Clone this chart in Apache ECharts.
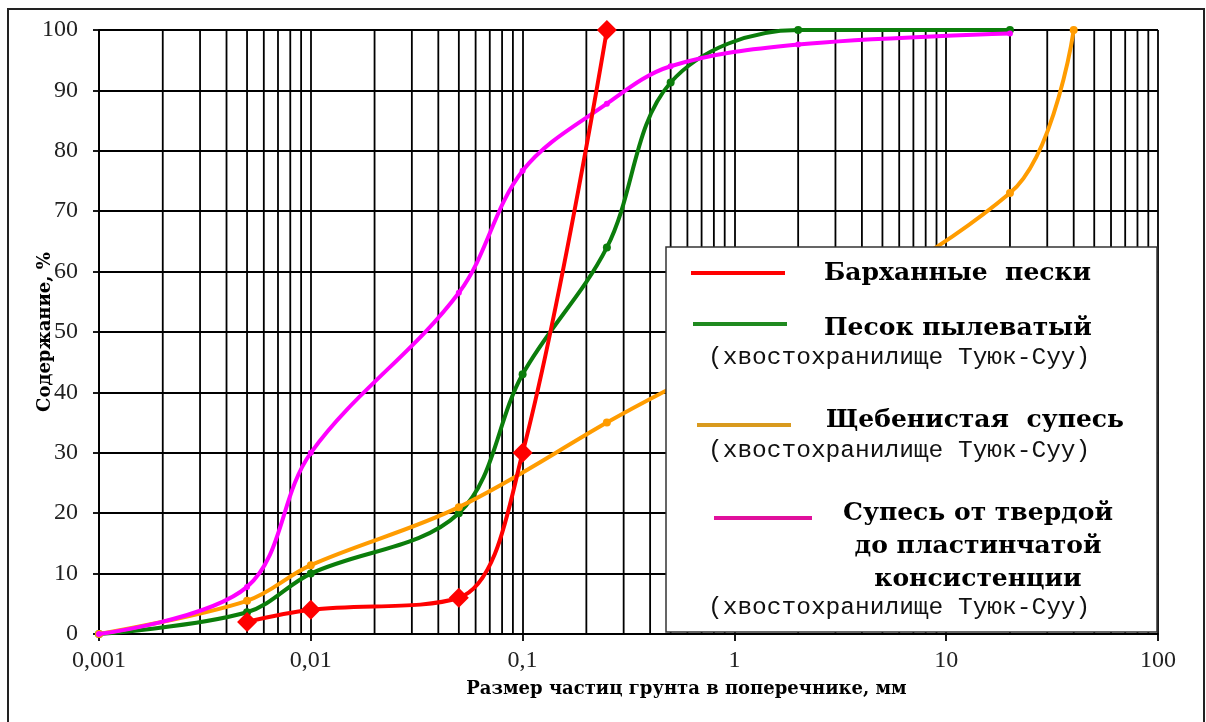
<!DOCTYPE html>
<html>
<head>
<meta charset="utf-8">
<script src="https://cdn.jsdelivr.net/npm/echarts@6/dist/echarts.min.js"></script>
<style>
  html, body { margin: 0; padding: 0; background: #fff; }
  #chart { width: 1206px; height: 722px; }
</style>
</head>
<body>
<div id="chart"></div>
<script>
  // гранулометрический состав: размер частиц (мм) и содержание (%)
  const redSizes = [0.005, 0.01, 0.05, 0.1, 0.25];
  const redValues = [2, 4, 6, 30, 100];
  const greenSizes = [0.001, 0.005, 0.01, 0.05, 0.1, 0.25, 0.5, 2, 20];
  const greenValues = [0, 3.6, 10, 20, 43, 64, 91.3, 100, 100];
  const orangeSizes = [0.001, 0.005, 0.01, 0.05, 0.25, 20, 40];
  const orangeValues = [0, 5.5, 11.4, 21, 35, 73, 100];
  const pinkSizes = [0.001, 0.005, 0.01, 0.05, 0.1, 0.25, 0.5, 2, 20];
  const pinkValues = [0, 7.8, 30, 56.5, 76.7, 87.8, 94, 97.6, 99.4];

  // промежуточные линии сетки (2..9 в каждой декаде)
  const decades = [0.001, 0.01, 0.1, 1, 10];
  const minorSteps = [2, 3, 4, 5, 6, 7, 8, 9];

  const seriesNames = ["Барханные  пески", "Песок пылеватый", "Щебенистая  супесь", "Супесь от твердой\nдо пластинчатой\nконсистенции"];
  const subNote = "(хвостохранилище Туюк-Суу)";
  const lineColors = ["#ff0000", "#0b7d0b", "#ff9c00", "#ff00ff"];
  const legendColors = ["#ff0000", "#1f8a1f", "#d99a1e", "#e0109c"];

  function pairs(xs, ys) {
    return xs.map((x, i) => [x, ys[i]]);
  }

  // вертикальные линии сетки одной серией с разрывами
  const minorGrid = [];
  for (const d of decades) {
    for (const k of minorSteps) {
      const x = Number((d * k).toPrecision(3));
      minorGrid.push([x, 0], [x, 100], [x, "-"]);
    }
  }

  const myChart = echarts.init(document.getElementById("chart"), null, { renderer: "canvas" });

  function fmt(v) {
    return String(Number(v.toPrecision(3))).replace(".", ",");
  }

  const LEG = 100; // z легенды

  const option = {
    animation: false,
    backgroundColor: "#fff",
    grid: { left: 99, right: 48, top: 30, bottom: 88 },
    xAxis: {
      type: "log",
      logBase: 10,
      min: 0.001,
      max: 100,
      name: "Размер частиц грунта в поперечнике, мм",
      nameLocation: "middle",
      nameGap: 46,
      nameMoveOverlap: false,
      nameTextStyle: {
        fontFamily: "DejaVu Serif",
        fontWeight: "bold",
        fontSize: 18,
        color: "#000",
        padding: [0, 0, 0, 116]
      },
      axisLine: { lineStyle: { color: "#000", width: 1.8 } },
      axisTick: { show: true, length: 7, lineStyle: { color: "#000", width: 1.8 } },
      axisLabel: {
        margin: 15,
        fontFamily: "Liberation Serif",
        fontSize: 24,
        color: "#222",
        formatter: fmt
      },
      splitLine: { show: true, lineStyle: { color: "#000", width: 1.8 } }
    },
    yAxis: {
      type: "value",
      min: 0,
      max: 100,
      interval: 10,
      name: "Содержание, %",
      nameLocation: "middle",
      nameGap: 45,
      nameMoveOverlap: false,
      nameTextStyle: {
        fontFamily: "DejaVu Serif",
        fontWeight: "bold",
        fontSize: 18,
        color: "#000"
      },
      axisLine: { show: true, lineStyle: { color: "#000", width: 1.8 } },
      axisTick: { show: true, length: 6, lineStyle: { color: "#000", width: 1.8 } },
      axisLabel: {
        margin: 21,
        fontFamily: "Liberation Serif",
        fontSize: 24,
        color: "#222"
      },
      splitLine: { show: true, lineStyle: { color: "#000", width: 1.8 } }
    },
    series: [
      {
        name: "grid-minor",
        type: "line",
        data: minorGrid,
        z: 1,
        silent: true,
        symbol: "none",
        connectNulls: false,
        lineStyle: { color: "#000", width: 1.8 }
      },
      {
        name: seriesNames[1],
        type: "line",
        smooth: 0.35,
        data: pairs(greenSizes, greenValues),
        symbol: "circle",
        symbolSize: 8,
        lineStyle: { color: lineColors[1], width: 4 },
        itemStyle: { color: lineColors[1] },
        z: 3
      },
      {
        name: seriesNames[2],
        type: "line",
        smooth: 0.35,
        data: pairs(orangeSizes, orangeValues),
        symbol: "circle",
        symbolSize: 8,
        lineStyle: { color: lineColors[2], width: 4 },
        itemStyle: { color: lineColors[2] },
        z: 4
      },
      {
        name: seriesNames[3],
        type: "line",
        smooth: 0.35,
        data: pairs(pinkSizes, pinkValues),
        symbol: "circle",
        symbolSize: 6,
        lineStyle: { color: lineColors[3], width: 4 },
        itemStyle: { color: lineColors[3] },
        z: 5
      },
      {
        name: seriesNames[0],
        type: "line",
        smooth: 0.35,
        data: pairs(redSizes, redValues),
        symbol: "diamond",
        symbolSize: 20,
        lineStyle: { color: lineColors[0], width: 4 },
        itemStyle: { color: lineColors[0] },
        z: 6
      }
    ],
    graphic: [
      {
        type: "rect",
        z: 0,
        silent: true,
        shape: { x: 8, y: 9, width: 1196, height: 720 },
        style: { fill: "none", stroke: "#222", lineWidth: 2 }
      },
      { type: "rect", z: LEG, shape: { x: 666, y: 247, width: 491, height: 385 },
        style: { fill: "#fff", stroke: "#333", lineWidth: 1.5 } },
      { type: "line", z: LEG + 1, shape: { x1: 691, y1: 273, x2: 785, y2: 273 },
        style: { stroke: legendColors[0], lineWidth: 4 } },
      { type: "text", z: LEG + 1, style: { text: seriesNames[0], x: 824, y: 273, textAlign: "left", textVerticalAlign: "middle",
        font: 'bold 25px "DejaVu Serif"', fill: "#000" } },
      { type: "line", z: LEG + 1, shape: { x1: 693, y1: 324, x2: 787, y2: 324 },
        style: { stroke: legendColors[1], lineWidth: 4 } },
      { type: "text", z: LEG + 1, style: { text: seriesNames[1], x: 824, y: 328, textAlign: "left", textVerticalAlign: "middle",
        font: 'bold 25px "DejaVu Serif"', fill: "#000" } },
      { type: "text", z: LEG + 1, style: { text: subNote, x: 708, y: 358, textAlign: "left", textVerticalAlign: "middle",
        font: '24.5px "Liberation Mono"', fill: "#111" } },
      { type: "line", z: LEG + 1, shape: { x1: 697, y1: 425, x2: 791, y2: 425 },
        style: { stroke: legendColors[2], lineWidth: 4 } },
      { type: "text", z: LEG + 1, style: { text: seriesNames[2], x: 826, y: 420, textAlign: "left", textVerticalAlign: "middle",
        font: 'bold 25px "DejaVu Serif"', fill: "#000" } },
      { type: "text", z: LEG + 1, style: { text: subNote, x: 708, y: 451, textAlign: "left", textVerticalAlign: "middle",
        font: '24.5px "Liberation Mono"', fill: "#111" } },
      { type: "line", z: LEG + 1, shape: { x1: 714, y1: 518, x2: 812, y2: 518 },
        style: { stroke: legendColors[3], lineWidth: 4 } },
      { type: "text", z: LEG + 1, style: { text: seriesNames[3], x: 978, y: 546, textAlign: "center", textVerticalAlign: "middle",
        font: 'bold 25px "DejaVu Serif"', lineHeight: 33, fill: "#000" } },
      { type: "text", z: LEG + 1, style: { text: subNote, x: 708, y: 608, textAlign: "left", textVerticalAlign: "middle",
        font: '24.5px "Liberation Mono"', fill: "#111" } }
    ]
  };

  myChart.setOption(option);
</script>
</body>
</html>
